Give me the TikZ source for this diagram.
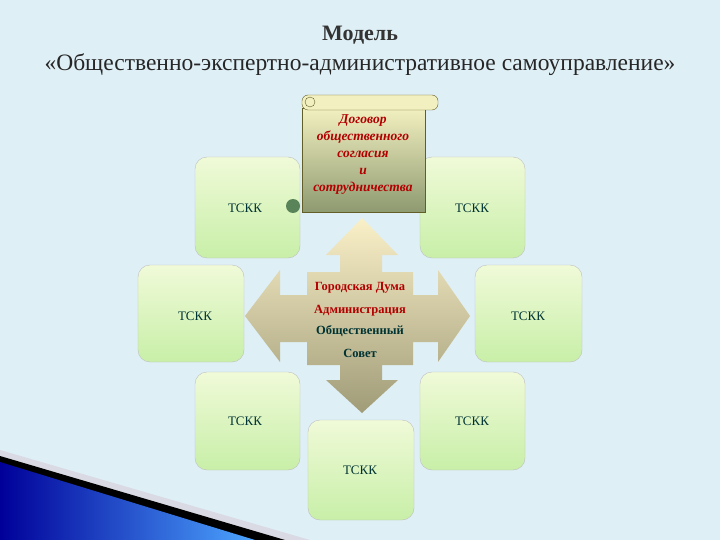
\documentclass[tikz,border=0pt]{standalone}
\usepackage{fontspec}
\setmainfont{Liberation Serif}
\definecolor{bg}{HTML}{DFEFF6}
\definecolor{btop}{HTML}{F0FAD8}
\definecolor{bbot}{HTML}{C8EFA8}
\definecolor{atop}{HTML}{FAF0C8}
\definecolor{abot}{HTML}{A09C78}
\definecolor{stop}{HTML}{F2F0C0}
\definecolor{sbot}{HTML}{8E9A70}
\begin{document}
\begin{tikzpicture}[x=1pt,y=-1pt,
  box/.style={rounded corners=12pt,draw=black!25,top color=btop,bottom color=bbot},
  tsk/.style={text=teal!40!black,font=\fontsize{13}{15}\selectfont},
  red/.style={text=red!70!black,font=\fontsize{12.5}{14}\selectfont\bfseries}]
\fill[bg] (0,0) rectangle (720,540);
\useasboundingbox (0,0) rectangle (720,540);
\fill[blue!15!gray!25] (0,450) -- (310,540) -- (0,540) -- cycle;
\fill[black] (0,456) -- (285,540) -- (0,540) -- cycle;
\shade[left color=blue!60!black,right color=blue!50!cyan!70!white] (0,462) -- (255,540) -- (0,540) -- cycle;
\node (t1) at (360,35) {\fontsize{22}{24}\selectfont\bfseries\color{black!80}Модель};
\node (t2) at (360,65) {\fontsize{23.5}{26}\selectfont\color{black!85}«Общественно-экспертно-административное самоуправление»};
\foreach \n/\a/\b/\c/\d in {tl/195/157/300/258, tr/420/157/525/258, ml/138/265/244/362, mr/475/265/582/362, bl/195/372/300/470, br/420/372/525/470, bc/308/420/414/520}
  \path[box] (\a,\b) rectangle (\c,\d);
\node[tsk] (n1) at (245,208) {ТСКК};
\node[tsk] (n2) at (472,208) {ТСКК};
\node[tsk] (n3) at (195,316) {ТСКК};
\node[tsk] (n4) at (528,316) {ТСКК};
\node[tsk] (n5) at (245,421) {ТСКК};
\node[tsk] (n6) at (472,421) {ТСКК};
\node[tsk] (n7) at (360,470) {ТСКК};
% cross arrow
\shade[top color=atop,bottom color=abot,draw=none]
 (362,218) -- (398,255) -- (382,255) -- (382,272) -- (413,272) -- (413,295) -- (438,295) -- (438,270) -- (470,316) -- (438,362) -- (438,342) -- (413,342) -- (413,365) -- (382,365) -- (382,380) -- (398,380) -- (362,413) -- (326,380) -- (340,380) -- (340,365) -- (307,365) -- (307,342) -- (280,342) -- (280,362) -- (245,316) -- (280,270) -- (280,295) -- (307,295) -- (307,272) -- (340,272) -- (340,255) -- (326,255) -- cycle;
\node[red] (c1) at (360,288) {Городская Дума};
\node[red] (c2) at (360,311) {Администрация};
\node[red,text=teal!40!black] (c3) at (360,331) {Общественный};
\node[red,text=teal!40!black] (c4) at (360,353) {Совет};
% scroll
\shade[top color=stop,bottom color=sbot,draw=olive!60!black] (302,108) rectangle (425,212);
\draw[draw=olive!60!black,fill=stop,rounded corners=6pt] (302,95) rectangle (438,110);
\draw[olive!60!black,fill=stop] (310,102) circle (5);
\fill[green!25!black!65] (293,206) circle (7);
\node[align=center,text=red!70!black,font=\fontsize{13.5}{17}\selectfont\bfseries\itshape] (s) at (363,155) {Договор\\общественного\\согласия\\и\\сотрудничества};
\end{tikzpicture}
\end{document}
